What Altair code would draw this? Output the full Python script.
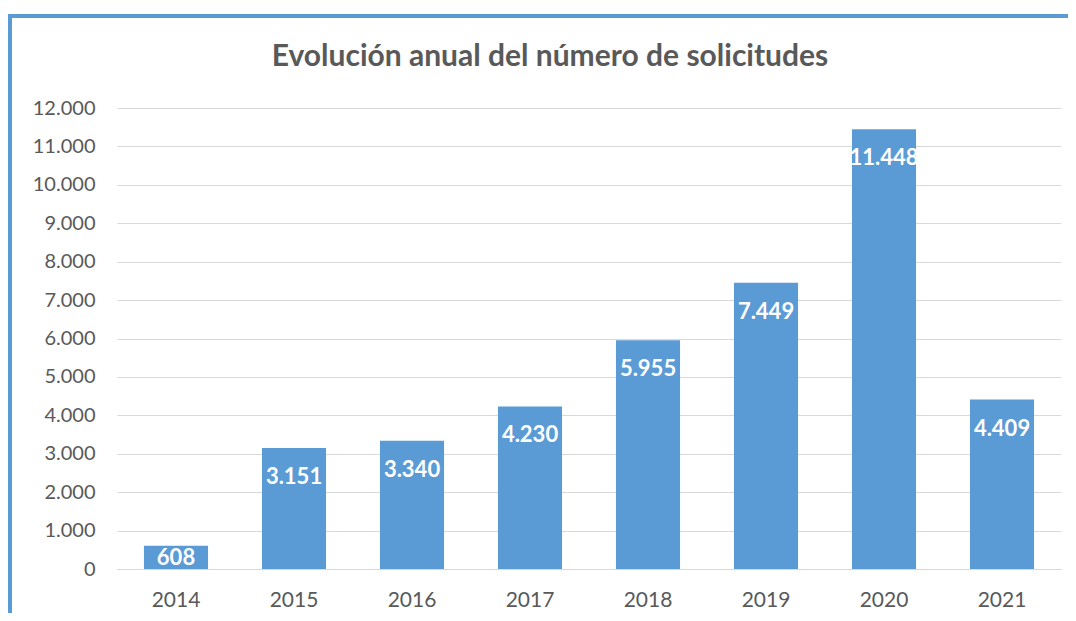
import altair as alt
import pandas as pd

years = ["2014", "2015", "2016", "2017", "2018", "2019", "2020", "2021"]
values = [608, 3151, 3340, 4230, 5955, 7449, 11448, 4409]
y_ticks = [0, 1000, 2000, 3000, 4000, 5000, 6000, 7000, 8000, 9000, 10000, 11000, 12000]
title_text = "Evolución anual del número de solicitudes"

df = pd.DataFrame({"year": years, "value": values})

W, H = 944, 461
BLUE = "#5B9BD5"
GRAY = "#595959"
FONT = "Lato"

X = alt.X("year:N", sort=years,
          scale=alt.Scale(paddingInner=0.457, paddingOuter=0.2285),
          axis=alt.Axis(title=None, labelAngle=0, labelFont=FONT, labelFontSize=21,
                        labelColor=GRAY, labelPadding=20, ticks=False,
                        domainColor="#d9d9d9", domainWidth=1))
Y = alt.Y("value:Q", scale=alt.Scale(domain=[0, 12000], nice=False),
          axis=alt.Axis(title=None, values=y_ticks, format=",d",
                        labelFont=FONT, labelFontSize=20, labelColor=GRAY,
                        labelPadding=22, ticks=False, domain=False, labelOverlap=False,
                        gridColor="#d9d9d9", gridWidth=1.2))

base = alt.Chart(df)

bars = base.mark_bar(color=BLUE).encode(x=X, y=Y)

big = base.transform_filter("datum.value >= 1500").mark_text(
    color="white", fontWeight="bold", font=FONT, fontSize=22, baseline="middle", dy=29
).encode(x=X, y=Y, text=alt.Text("value:Q", format=",d"))

small = base.transform_filter("datum.value < 1500").mark_text(
    color="white", fontWeight="bold", font=FONT, fontSize=22, baseline="middle", dy=12
).encode(x=X, y=Y, text=alt.Text("value:Q", format=",d"))

one = pd.DataFrame({"t": [title_text]})
title = alt.Chart(one).mark_text(
    font=FONT, fontSize=30, fontWeight="bold", color=GRAY, align="center", baseline="middle"
).encode(x=alt.value(433), y=alt.value(-51), text="t:N")

top_line = alt.Chart(one).mark_rule(color=BLUE, strokeWidth=4).encode(
    x=alt.value(-109), x2=alt.value(W + 20), y=alt.value(-92))
left_line = alt.Chart(one).mark_rule(color=BLUE, strokeWidth=4).encode(
    x=alt.value(-107), y=alt.value(-94), y2=alt.value(H + 60))

chart = alt.layer(bars, big, small, title, top_line, left_line).properties(
    width=W, height=H,
    autosize=alt.AutoSizeParams(type="none"),
    padding={"left": 109, "top": 100, "right": 7, "bottom": 44},
).configure(
    locale={"number": {"decimal": ",", "thousands": ".", "grouping": [3], "currency": ["", " €"]}}
).configure_view(stroke=None)

chart.save("out.html", embed_options={"renderer": "svg", "actions": False})
